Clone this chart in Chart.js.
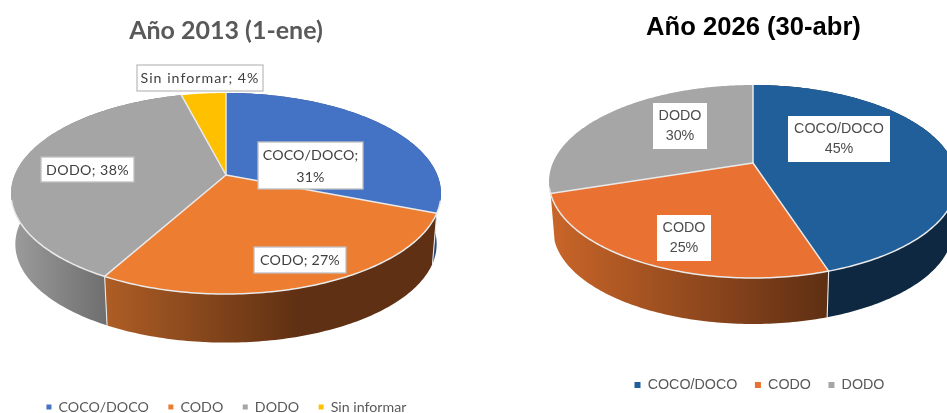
<!DOCTYPE html>
<html lang="es">
<head>
<meta charset="utf-8">
<script src="https://cdn.jsdelivr.net/npm/chart.js@4"></script>
<style>
  html, body { margin: 0; padding: 0; background: #fff; overflow: hidden; }
  body { width: 947px; height: 413px; position: relative; }
  canvas { position: absolute; left: 0; top: 0; }
</style>
</head>
<body>
<canvas id="pie2013" width="947" height="413"></canvas>
<canvas id="pie2026" width="947" height="413"></canvas>
<script>
// Series
const CATEGORIES_2013 = ['COCO/DOCO', 'CODO', 'DODO', 'Sin informar'];
const VALUES_2013 = [31, 27, 38, 4];
const CATEGORIES_2026 = ['COCO/DOCO', 'CODO', 'DODO'];
const VALUES_2026 = [45, 25, 30];
const TITLE_2013 = 'Año 2013 (1-ene)';
const TITLE_2026 = 'Año 2026 (30-abr)';

// Look of each pie: perspective disc geometry, colours, label boxes
const STYLE_2013 = {
  cx: 226, cy: 175, rx: 211.3, ry: 97.1, k: 0.184, drop: 51, shrink: 0.98,
  colors: ['#4472C4', '#ED7D31', '#A5A5A5', '#FFC000'],
  walls: [
    { from: 425, to: 440, stops: ['#2B4A80', '#2B4A80'] },
    { from: 107, to: 300, stops: ['#AD5D25', '#5F3013'] },
    { from: 12, to: 107, stops: ['#9C9C9C', '#6E6E6E'] },
    null
  ],
  font: 'Lato', size: 14.2, textColor: '#404040', boxBorder: '#BFBFBF',
  separator: '; ',
  boxes: [
    { l: 258, t: 142, r: 363, b: 189, wrap: true, track: 0.16 },
    { l: 254, t: 247, r: 346, b: 273, wrap: false, track: 0.2 },
    { l: 41, t: 157, r: 134, b: 182, wrap: false, track: 0.4 },
    { l: 137, t: 65, r: 263, b: 91, wrap: false, track: 1.03 }
  ],
  lineGap: 22,
  title: { x: 226, top: 16, font: { family: 'Lato', size: 25, weight: 'bold' }, color: '#595959' },
  legend: { x: 226.4, mid: 407, font: { family: 'Lato', size: 14.2 }, gap: 19.5, box: 5 }
};
const STYLE_2026 = {
  cx: 753, cy: 163, rx: 200.2, ry: 92.95, k: 0.1917, drop: 48.3, shrink: 0.98,
  colors: ['#215F9A', '#E97132', '#A6A6A6'],
  walls: [
    { from: 829, to: 947, stops: ['#0D2840', '#0D2840'] },
    { from: 551, to: 829, stops: ['#C96529', '#5E2F13'] },
    null
  ],
  font: 'Liberation Sans', size: 14.3, textColor: '#4D4D4D', boxBorder: null,
  separator: null,
  boxes: [
    { l: 788, t: 116, r: 890, b: 162, track: 0 },
    { l: 657, t: 215, r: 711, b: 261, track: 0 },
    { l: 653, t: 103, r: 707, b: 149, track: 0 }
  ],
  lineGap: 20,
  title: { x: 753.5, top: 13, font: { family: 'Liberation Sans', size: 25.6, weight: 'bold' }, color: '#000000' },
  legend: { x: 759.5, mid: 385, font: { family: 'Liberation Sans', size: 14.3 }, gap: 17.5, box: 6 }
};

const RIM = '#EAEAEA';
const FRONT_EDGE = 0.25;   // rim lines only show on the near part of the disc

// Perspective projection of a point on the disc's circle at the given angle
function project(s, angle, scale, drop) {
  const u = Math.cos(angle), v = Math.sin(angle);
  const w = 1 - s.k * v;
  return [s.cx + s.rx * scale * u / w, s.cy + drop + s.ry * scale * v / w];
}

function rimAngles(a0, a1) {
  const steps = Math.max(8, Math.ceil((a1 - a0) * 60));
  const out = [];
  for (let i = 0; i <= steps; i++) out.push(a0 + (a1 - a0) * i / steps);
  return out;
}

function line(ctx, p, q) {
  ctx.beginPath();
  ctx.moveTo(p[0], p[1]);
  ctx.lineTo(q[0], q[1]);
  ctx.stroke();
}

// Replaces the flat circular slices with an extruded, tilted disc
function tiltedDisc(s) {
  return {
    id: 'tiltedDisc',
    afterLayout(chart) {
      const titleBox = chart.titleBlock, legend = chart.legend;
      const tw = titleBox.right - titleBox.left, th = titleBox.bottom - titleBox.top;
      titleBox.left = s.title.x - tw / 2; titleBox.right = s.title.x + tw / 2;
      titleBox.top = s.title.top; titleBox.bottom = s.title.top + th;
      const lw = legend.right - legend.left, lh = legend.bottom - legend.top;
      legend.left = s.legend.x - lw / 2; legend.right = s.legend.x + lw / 2;
      legend.top = s.legend.mid - s.legend.gap - s.legend.font.size / 2;
      legend.bottom = legend.top + lh;
    },
    beforeDatasetDraw(chart, args) {
      const ctx = chart.ctx;
      const arcs = chart.getDatasetMeta(args.index).data;
      ctx.save();
      ctx.lineJoin = 'round';
      ctx.lineCap = 'round';

      // side walls
      arcs.forEach((arc, i) => {
        const wall = s.walls[i];
        if (!wall) return;
        const angles = rimAngles(arc.startAngle, arc.endAngle);
        const grad = ctx.createLinearGradient(wall.from, 0, wall.to, 0);
        grad.addColorStop(0, wall.stops[0]);
        grad.addColorStop(1, wall.stops[1]);
        ctx.beginPath();
        angles.forEach((a, n) => {
          const p = project(s, a, 1, 0);
          n ? ctx.lineTo(p[0], p[1]) : ctx.moveTo(p[0], p[1]);
        });
        angles.slice().reverse().forEach(a => {
          const p = project(s, a, s.shrink, s.drop);
          ctx.lineTo(p[0], p[1]);
        });
        ctx.closePath();
        ctx.fillStyle = grad;
        ctx.fill();
      });

      // seams between neighbouring walls
      ctx.strokeStyle = RIM;
      ctx.lineWidth = 1.1;
      arcs.forEach((arc, i) => {
        if (s.walls[i] && s.walls[(i + 1) % arcs.length] && Math.sin(arc.endAngle) > FRONT_EDGE) {
          line(ctx, project(s, arc.endAngle, 1, 0), project(s, arc.endAngle, s.shrink, s.drop));
        }
      });

      // top faces
      arcs.forEach((arc, i) => {
        ctx.beginPath();
        ctx.moveTo(s.cx, s.cy);
        rimAngles(arc.startAngle, arc.endAngle).forEach(a => {
          const p = project(s, a, 1, 0);
          ctx.lineTo(p[0], p[1]);
        });
        ctx.closePath();
        ctx.fillStyle = s.colors[i];
        ctx.fill();
      });

      // slice edges and the near rim
      ctx.strokeStyle = RIM;
      ctx.lineWidth = 1.5;
      arcs.forEach(arc => {
        line(ctx, [s.cx, s.cy], project(s, arc.startAngle, 1, 0));
        ctx.beginPath();
        let pen = false;
        rimAngles(arc.startAngle, arc.endAngle).forEach(a => {
          const p = project(s, a, 1, 0);
          if (Math.sin(a) > FRONT_EDGE) {
            pen ? ctx.lineTo(p[0], p[1]) : ctx.moveTo(p[0], p[1]);
            pen = true;
          } else {
            pen = false;
          }
        });
        ctx.stroke();
      });
      ctx.restore();
      return false;
    },
    afterDatasetsDraw(chart) {
      const ctx = chart.ctx;
      const names = chart.data.labels, values = chart.data.datasets[0].data;
      ctx.save();
      ctx.font = `${s.size}px "${s.font}"`;
      ctx.textAlign = 'center';
      ctx.textBaseline = 'middle';
      s.boxes.forEach((b, i) => {
        ctx.letterSpacing = b.track + 'px';
        ctx.fillStyle = '#FFFFFF';
        ctx.fillRect(b.l, b.t, b.r - b.l, b.b - b.t);
        if (s.boxBorder) {
          ctx.strokeStyle = s.boxBorder;
          ctx.lineWidth = 1.3;
          ctx.strokeRect(b.l, b.t, b.r - b.l, b.b - b.t);
        }
        const lines = s.separator === null
          ? [names[i], values[i] + '%']
          : b.wrap
            ? [names[i] + ';', values[i] + '%']
            : [names[i] + s.separator + values[i] + '%'];
        const mid = (b.l + b.r) / 2, midY = (b.t + b.b) / 2 + 0.5;
        lines.forEach((text, n) => {
          ctx.fillStyle = s.textColor;
          ctx.fillText(text, mid, midY + (n - (lines.length - 1) / 2) * s.lineGap);
        });
      });
      ctx.restore();
    }
  };
}

function drawPie(canvasId, categories, values, titleText, look) {
  return new Chart(document.getElementById(canvasId), {
    type: 'pie',
    data: {
      labels: categories,
      datasets: [{ data: values, backgroundColor: look.colors, borderWidth: 0 }]
    },
    plugins: [tiltedDisc(look)],
    options: {
      responsive: false,
      animation: false,
      events: [],
      plugins: {
        tooltip: { enabled: false },
        title: {
          display: true,
          text: titleText,
          color: look.title.color,
          font: look.title.font,
          padding: 0
        },
        legend: {
          display: true,
          position: 'bottom',
          labels: {
            boxWidth: look.legend.box,
            boxHeight: look.legend.box,
            padding: look.legend.gap,
            color: '#595959',
            font: look.legend.font
          }
        }
      }
    }
  });
}

drawPie('pie2013', CATEGORIES_2013, VALUES_2013, TITLE_2013, STYLE_2013);
drawPie('pie2026', CATEGORIES_2026, VALUES_2026, TITLE_2026, STYLE_2026);
</script>
</body>
</html>
